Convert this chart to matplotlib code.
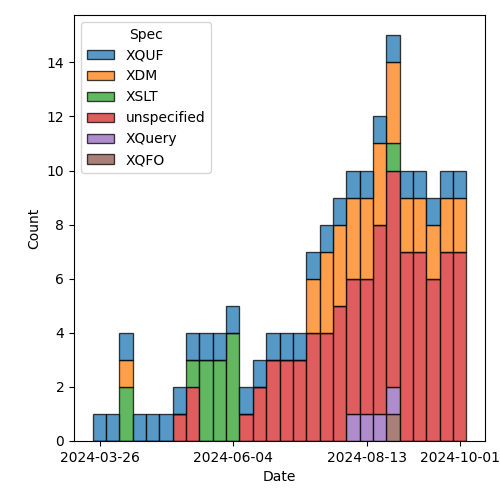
import numpy as np
import matplotlib
matplotlib.use("Agg")
import matplotlib.pyplot as plt
import matplotlib.dates as mdates
from matplotlib.ticker import FixedLocator
from matplotlib.patches import Patch

# weekly bins, first bin starts here
bin_start = np.datetime64("2024-03-22T08:00")
bin_days = 7
tick_dates = ["2024-03-26", "2024-06-04", "2024-08-13", "2024-10-01"]

specs = ["XQUF", "XDM", "XSLT", "unspecified", "XQuery", "XQFO"]
colors = ["#1f77b4", "#ff7f0e", "#2ca02c", "#d62728", "#9467bd", "#8c564b"]

xquf = [1] * 28
xdm = [0, 0, 1, 0, 0, 0, 0, 0, 0, 0, 0, 0, 0, 0, 0, 0, 2, 3, 3, 3, 3, 3, 3, 2, 2, 2, 2, 2]
xslt = [0, 0, 2, 0, 0, 0, 0, 1, 3, 3, 4, 0, 0, 0, 0, 0, 0, 0, 0, 0, 0, 0, 1, 0, 0, 0, 0, 0]
unspecified = [0, 0, 0, 0, 0, 0, 1, 2, 0, 0, 0, 1, 2, 3, 3, 3, 4, 4, 5, 5, 5, 7, 8, 7, 7, 6, 7, 7]
xquery = [0] * 19 + [1, 1, 1, 1] + [0] * 5
xqfo = [0] * 22 + [1] + [0] * 5

counts = [xquf, xdm, xslt, unspecified, xquery, xqfo]

n_bins = len(xquf)
lefts = bin_start + np.arange(n_bins) * np.timedelta64(bin_days, "D")
lefts_num = mdates.date2num(lefts.astype("datetime64[ms]").astype(object))

fig, ax = plt.subplots(figsize=(5, 5), dpi=100)
fig.subplots_adjust(left=0.148, right=0.97, bottom=0.118, top=0.97)

# stack from the last spec at the bottom up to the first on top
bottom = np.zeros(n_bins)
for name, col, vals in reversed(list(zip(specs, colors, counts))):
    vals = np.array(vals, dtype=float)
    ax.bar(lefts_num, vals, width=bin_days, bottom=bottom, align="edge",
           color=col, alpha=0.75, edgecolor="black", linewidth=0.96)
    bottom += vals

ax.xaxis_date()
tick_num = mdates.date2num(np.array(tick_dates, dtype="datetime64[D]").astype(object))
ax.xaxis.set_major_locator(FixedLocator(tick_num))
ax.xaxis.set_major_formatter(mdates.DateFormatter("%Y-%m-%d"))
ax.set_xlabel("Date")
ax.set_ylabel("Count")

handles = [Patch(facecolor=c, alpha=0.75, edgecolor="black", linewidth=0.96)
           for c in colors]
ax.legend(handles, specs, title="Spec", loc="upper left")

fig.savefig("out.png")
